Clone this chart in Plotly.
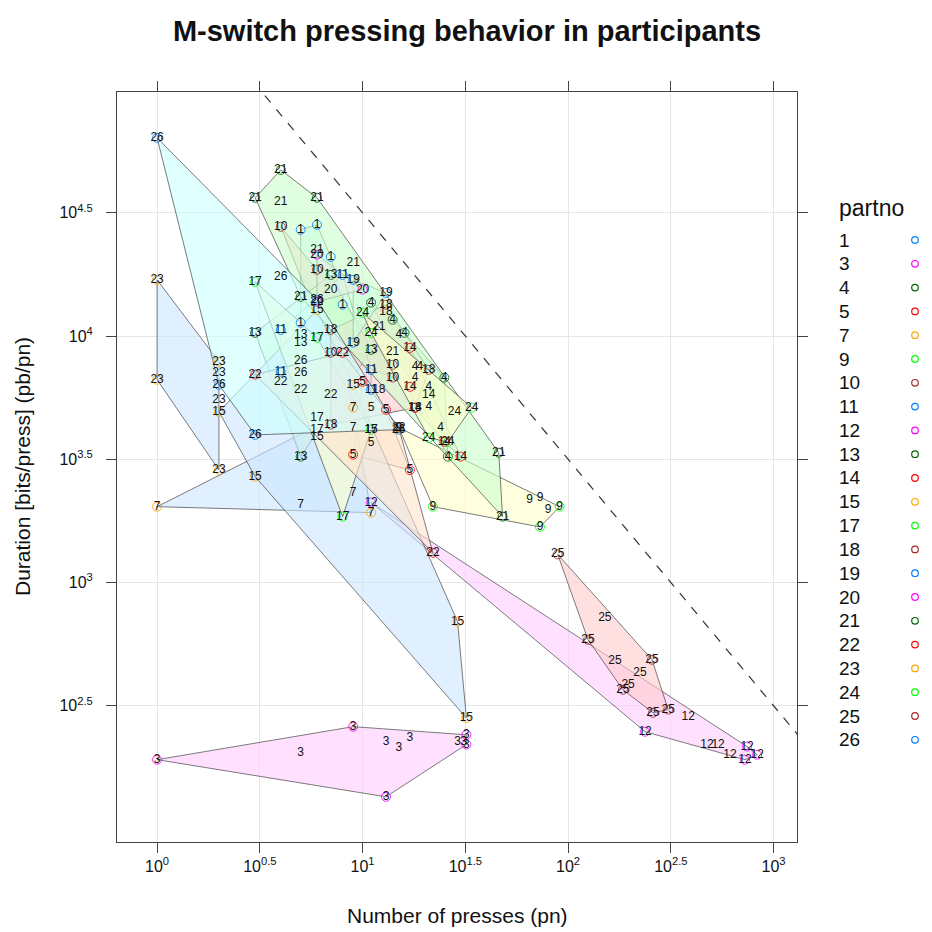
import plotly.graph_objects as go
import math

# ---------------- data ----------------
partno_levels = [1, 3, 4, 5, 7, 9, 10, 11, 12, 13, 14, 15, 17, 18, 19, 20, 21, 22, 23, 24, 25, 26]

point_partno = (
    [1] * 5 + [3] * 11 + [4] * 12 + [5] * 6 + [7] * 6 + [9] * 7 + [10] * 5 + [11] * 5 +
    [12] * 9 + [13] * 6 + [14] * 6 + [15] * 8 + [17] * 6 + [18] * 7 + [19] * 3 + [20] * 4 +
    [21] * 11 + [22] * 7 + [23] * 6 + [24] * 6 + [25] * 10 + [26] * 8
)

presses = [
    5, 6, 7, 5, 8,                                   # 1
    1, 9, 5, 13, 15, 17, 13, 29, 31, 32, 32,         # 3
    11, 14, 15, 16, 18, 19, 25, 18, 21, 21, 24, 26,  # 4
    11, 13, 11, 9, 17, 10,                           # 5
    1, 5, 9, 9, 9, 11,                               # 7
    22, 65, 73, 80, 91, 73, 15,                      # 9
    4, 6, 7, 14, 14,                                 # 10
    8, 4, 4, 11, 11,                                 # 11
    11, 237, 384, 474, 537, 614, 743, 832, 726,      # 12
    7, 3, 5, 5, 5, 11,                               # 13
    17, 17, 21, 18, 30, 25,                          # 14
    6, 2, 3, 9, 11, 29, 32, 6,                       # 15
    3, 6, 6, 8, 11, 6,                               # 17
    13, 13, 21, 7, 12, 18, 7,                        # 18
    9, 13, 9,                                        # 19
    6, 7, 10, 6,                                     # 20
    4, 3, 4, 6, 6, 9, 12, 14, 46, 48, 5,             # 21
    3, 4, 5, 7, 22, 8, 15,                           # 22
    1, 1, 2, 2, 2, 2,                                # 23
    10, 28, 34, 26, 21, 11,                          # 24
    89, 151, 125, 169, 256, 224, 196, 185, 259, 307, # 25
    1, 4, 2, 3, 5, 5, 15, 6,                         # 26
]

duration = [
    26980, 28250, 20940, 11320, 13400,                                  # 1
    191, 260, 204, 226, 214, 234, 135, 226, 226, 241, 220,              # 3
    13650, 11640, 10120, 10300, 7500, 7500, 6780, 6780, 6220, 5160, 4250, 3240,  # 4
    5120, 5020, 3690, 3300, 2860, 6520,                                 # 5
    2030, 2070, 5120, 4250, 2310, 1920,                                 # 7
    2030, 2170, 2210, 1970, 2030, 1680, 4250,                           # 9
    27730, 18580, 8550, 7640, 6780,                                     # 10
    17700, 10590, 7160, 7290, 6050,                                     # 11
    2110, 248, 285, 220, 220, 200, 216, 200, 191,                       # 12
    17700, 10300, 10120, 9400, 3240, 8790,                              # 13
    8950, 6220, 5780, 5120, 3240, 3720,                                 # 14
    12760, 4930, 2690, 6340, 4170, 693, 282, 3880,                      # 15
    16600, 4660, 4170, 1850, 4170, 9840,                                # 17
    13400, 12530, 7290, 4370, 6050, 5120, 10590,                        # 18
    16900, 14960, 9400,                                                 # 19
    21380, 15420, 15420, 13770,                                         # 20
    47200, 36390, 35080, 36390, 22390, 19820, 10920, 8630, 3360, 1850, 14420,  # 21
    6970, 6520, 6050, 5780, 1320, 8550, 4250,                           # 22
    16900, 6650, 7870, 7100, 5510, 2860,                                # 23
    12420, 4930, 5120, 3720, 3860, 10300,                               # 24
    1300, 719, 586, 478, 486, 431, 385, 367, 296, 305,                  # 25
    63700, 17380, 6340, 3970, 7940, 7100, 4170, 14030,                  # 26
]

max_bits = 10 ** 5.5  # dashed bound: presses * duration

x_tick_exps = ["0", "0.5", "1", "1.5", "2", "2.5", "3"]
y_tick_exps = ["2.5", "3", "3.5", "4", "4.5"]

symbol_cols = ["#0080ff", "#ff00ff", "#006400", "#ff0000", "#ffa500", "#00ff00", "#a52a2a"]
polygon_cols = ["#CCFFFF", "#FFCCFF", "#CCFFCC", "#FFE5CC", "#CCE6FF", "#FFFFCC", "#FFCCCC"]

FONT = "Liberation Sans"
INK = "#111111"


# ---------------- helpers ----------------
def rgba(hexcol, a):
    h = hexcol.lstrip("#")
    return "rgba(%d,%d,%d,%g)" % (int(h[0:2], 16), int(h[2:4], 16), int(h[4:6], 16), a)


def convex_hull(pts):
    pts = sorted(set(pts))
    if len(pts) <= 2:
        return pts

    def cross(o, a, b):
        return (a[0] - o[0]) * (b[1] - o[1]) - (a[1] - o[1]) * (b[0] - o[0])

    lower, upper = [], []
    for p in pts:
        while len(lower) >= 2 and cross(lower[-2], lower[-1], p) <= 0:
            lower.pop()
        lower.append(p)
    for p in reversed(pts):
        while len(upper) >= 2 and cross(upper[-2], upper[-1], p) <= 0:
            upper.pop()
        upper.append(p)
    return lower[:-1] + upper[:-1]


fig = go.Figure()

groups = {}
for g, x, y in zip(point_partno, presses, duration):
    groups.setdefault(g, []).append((x, y))

hull_vertices = {}
for k, g in enumerate(partno_levels):
    lp = [(math.log10(x), math.log10(y)) for x, y in groups[g]]
    h = convex_hull(lp)
    hull_vertices[g] = h
    hx = [10 ** a for a, b in h] + [10 ** h[0][0]]
    hy = [10 ** b for a, b in h] + [10 ** h[0][1]]
    fig.add_trace(go.Scatter(
        x=hx, y=hy, mode="lines", fill="toself",
        fillcolor=rgba(polygon_cols[k % 7], 0.6),
        line=dict(color="rgba(70,70,70,0.7)", width=1),
        hoverinfo="skip", showlegend=False))

# dashed bound line
bx = [10 ** 0.3, 10 ** 3.3]
fig.add_trace(go.Scatter(
    x=bx, y=[max_bits / v for v in bx], mode="lines",
    line=dict(color="#333333", width=1.2, dash="dash"),
    hoverinfo="skip", showlegend=False))

# vertex circles
for k, g in enumerate(partno_levels):
    h = hull_vertices[g]
    fig.add_trace(go.Scatter(
        x=[10 ** a for a, b in h], y=[10 ** b for a, b in h], mode="markers",
        marker=dict(symbol="circle-open", size=9, color=symbol_cols[k % 7],
                    opacity=0.85, line=dict(width=1)),
        hoverinfo="skip", showlegend=False))

# text labels
fig.add_trace(go.Scatter(
    x=presses, y=duration, mode="text", text=[str(p) for p in point_partno],
    textfont=dict(family=FONT, size=12, color=INK),
    hoverinfo="skip", showlegend=False))

# ---------------- layout ----------------
L, R, T, B = 117, 797, 92, 842
W = H = 932

axis_common = dict(
    type="log", showline=True, linecolor="#444444", linewidth=1, mirror="ticks",
    ticks="outside", ticklen=10, tickcolor="#444444", tickwidth=1,
    showgrid=True, gridcolor="#e6e6e6", gridwidth=1, zeroline=False,
    tickfont=dict(family=FONT, size=16, color=INK),
)

fig.update_layout(
    width=W, height=H,
    margin=dict(l=L, r=W - R, t=T, b=H - B, pad=0),
    paper_bgcolor="white", plot_bgcolor="white",
    title=dict(text="<b>M-switch pressing behavior in participants</b>",
               x=467 / W, xanchor="center", y=1 - 31 / H, yanchor="middle",
               font=dict(family=FONT, size=29, color=INK)),
    xaxis=dict(axis_common, range=[-0.195, 3.114],
               tickvals=[10 ** float(e) for e in x_tick_exps],
               ticktext=["10<sup>%s</sup>" % e for e in x_tick_exps]),
    yaxis=dict(axis_common, range=[1.947, 4.99], ticklabelstandoff=10,
               tickvals=[10 ** float(e) for e in y_tick_exps],
               ticktext=["10<sup>%s</sup>" % e for e in y_tick_exps]),
    showlegend=False,
)

shapes = [dict(type="line", xref="paper", x0=0, x1=1, yref="y", y0=2, y1=2,
               line=dict(color="#e6e6e6", width=1), layer="below")]

annotations = [
    dict(text="Number of presses (pn)", xref="paper", yref="paper",
         x=0.5, y=(B - 915) / (B - T), xanchor="center", yanchor="middle", showarrow=False,
         font=dict(family=FONT, size=21, color=INK)),
    dict(text="Duration [bits/press] (pb/pn)", xref="paper", yref="paper",
         x=(22 - L) / (R - L), y=0.5, xanchor="center", yanchor="middle", showarrow=False,
         textangle=-90, font=dict(family=FONT, size=21, color=INK)),
    dict(text="partno", xref="paper", yref="paper",
         x=(871 - L) / (R - L), y=(B - 208) / (B - T), xanchor="center", yanchor="middle",
         showarrow=False, font=dict(family=FONT, size=23, color=INK)),
]

row0, row_step = 240, 23.8
for k, g in enumerate(partno_levels):
    py = row0 + k * row_step
    yp = (B - py) / (B - T)
    annotations.append(dict(text=str(g), xref="paper", yref="paper",
                            x=(837 - L) / (R - L), y=yp, xanchor="left", yanchor="middle",
                            showarrow=False,
                            font=dict(family=FONT, size=19, color=INK)))
    cx = (915 - L) / (R - L)
    rx, ry = 3.3 / (R - L), 3.3 / (B - T)
    shapes.append(dict(type="circle", xref="paper", yref="paper",
                       x0=cx - rx, x1=cx + rx, y0=yp - ry, y1=yp + ry,
                       line=dict(color=symbol_cols[k % 7], width=1.2)))

fig.update_layout(shapes=shapes, annotations=annotations)

fig.write_html("out.html")
